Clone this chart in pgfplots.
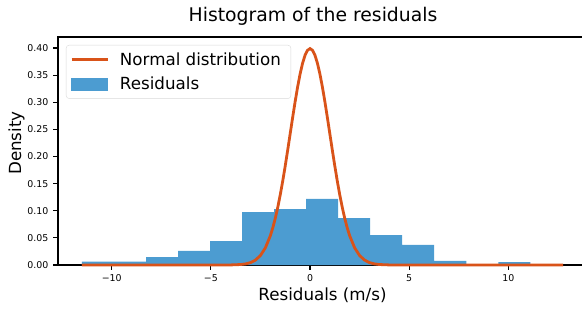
\documentclass[border=0pt]{standalone}
\usepackage{pgfplots}
\pgfplotsset{compat=1.18}
\usepackage{fontspec}
\setmainfont{DejaVu Sans}
\definecolor{barblue}{RGB}{76,156,209}
\definecolor{curveorange}{RGB}{217,83,25}
\begin{document}
\begin{tikzpicture}[x=1pt,y=1pt]
\useasboundingbox (0,0) rectangle (582,311);
\begin{axis}[
  at={(58pt,46pt)}, anchor=south west,
  scale only axis, width=529pt, height=228pt,
  xmin=-12.71, xmax=13.97, ymin=0, ymax=0.4203,
  clip=false,
  tick pos=left, tick align=outside,
  major tick length=4.9pt,
  every tick/.style={black, line width=1.1pt},
  axis line style={line width=1.1pt, black},
  xtick={-10,-5,0,5,10},
  xticklabels={−10,−5,0,5,10},
  ytick={0,0.05,0.1,0.15,0.2,0.25,0.3,0.35,0.4},
  yticklabels={0.00,0.05,0.10,0.15,0.20,0.25,0.30,0.35,0.40},
  tick label style={font=\fontsize{9.4}{11}\selectfont},
  xticklabel style={inner sep=0pt, yshift=-4.5pt},
  yticklabel style={inner sep=0pt, xshift=-4.5pt},
  xlabel={Residuals (m/s)},
  xlabel style={font=\fontsize{16.7}{20}\selectfont, at={(axis description cs:0.5,0)}, anchor=base, yshift=-35.7pt, inner sep=0pt},
  legend cell align=left,
  legend style={at={(axis description cs:0.0151,0.965)}, anchor=north west,
    font=\fontsize{16.7}{20}\selectfont, draw=black!15, rounded corners=3pt,
    inner xsep=4pt, inner ysep=7.5pt, row sep=10pt, column sep=5pt,
    nodes={inner xsep=6pt, inner ysep=0pt}},
  legend image code/.code={\draw[#1, sharp corners] (0pt,0pt) -- (36pt,0pt);},
]
\addplot[ybar interval, fill=barblue, draw=none, forget plot] coordinates {
(-11.50,0.0060) (-9.885,0.0060) (-8.270,0.0147) (-6.655,0.0260)
(-5.040,0.0440) (-3.425,0.0977) (-1.810,0.1030) (-0.195,0.1217)
(1.420,0.0866) (3.035,0.0553) (4.650,0.0369) (6.265,0.0074)
(7.880,0.0000) (9.495,0.0055) (11.110,0.0055)
};
\addplot[curveorange, line width=2.8pt] coordinates {
(-11.5,0) (-5,0.0000015) (-4.5,0.000016) (-4,0.000134) (-3.5,0.000873)
(-3.25,0.002029) (-3,0.004432) (-2.75,0.009094) (-2.5,0.017528)
(-2.25,0.031740) (-2,0.053991) (-1.875,0.06879) (-1.75,0.086277)
(-1.625,0.10654) (-1.5,0.129518) (-1.375,0.15502) (-1.25,0.182649)
(-1.125,0.21188) (-1,0.241971) (-0.875,0.27205) (-0.75,0.301137)
(-0.625,0.32816) (-0.5,0.352065) (-0.375,0.37185) (-0.25,0.386668)
(-0.125,0.39583) (0,0.398942)
(0.125,0.39583) (0.25,0.386668) (0.375,0.37185) (0.5,0.352065)
(0.625,0.32816) (0.75,0.301137) (0.875,0.27205) (1,0.241971)
(1.125,0.21188) (1.25,0.182649) (1.375,0.15502) (1.5,0.129518)
(1.625,0.10654) (1.75,0.086277) (1.875,0.06879) (2,0.053991)
(2.25,0.031740) (2.5,0.017528) (2.75,0.009094) (3,0.004432)
(3.25,0.002029) (3.5,0.000873) (4,0.000134) (4.5,0.000016)
(5,0.0000015) (12.76,0)
};
\addlegendentry{Normal distribution}
\addlegendimage{legend image code/.code={\fill[barblue, sharp corners] (0pt,-6pt) rectangle (36pt,6pt);}}
\addlegendentry{Residuals}
\end{axis}
\node[anchor=base, font=\fontsize{18.8}{22}\selectfont, inner sep=0pt] at (313,289) {Histogram of the residuals};
\node[anchor=base, rotate=90, font=\fontsize{16.7}{20}\selectfont, inner sep=0pt] at (21,168) {Density};
\end{tikzpicture}
\end{document}
